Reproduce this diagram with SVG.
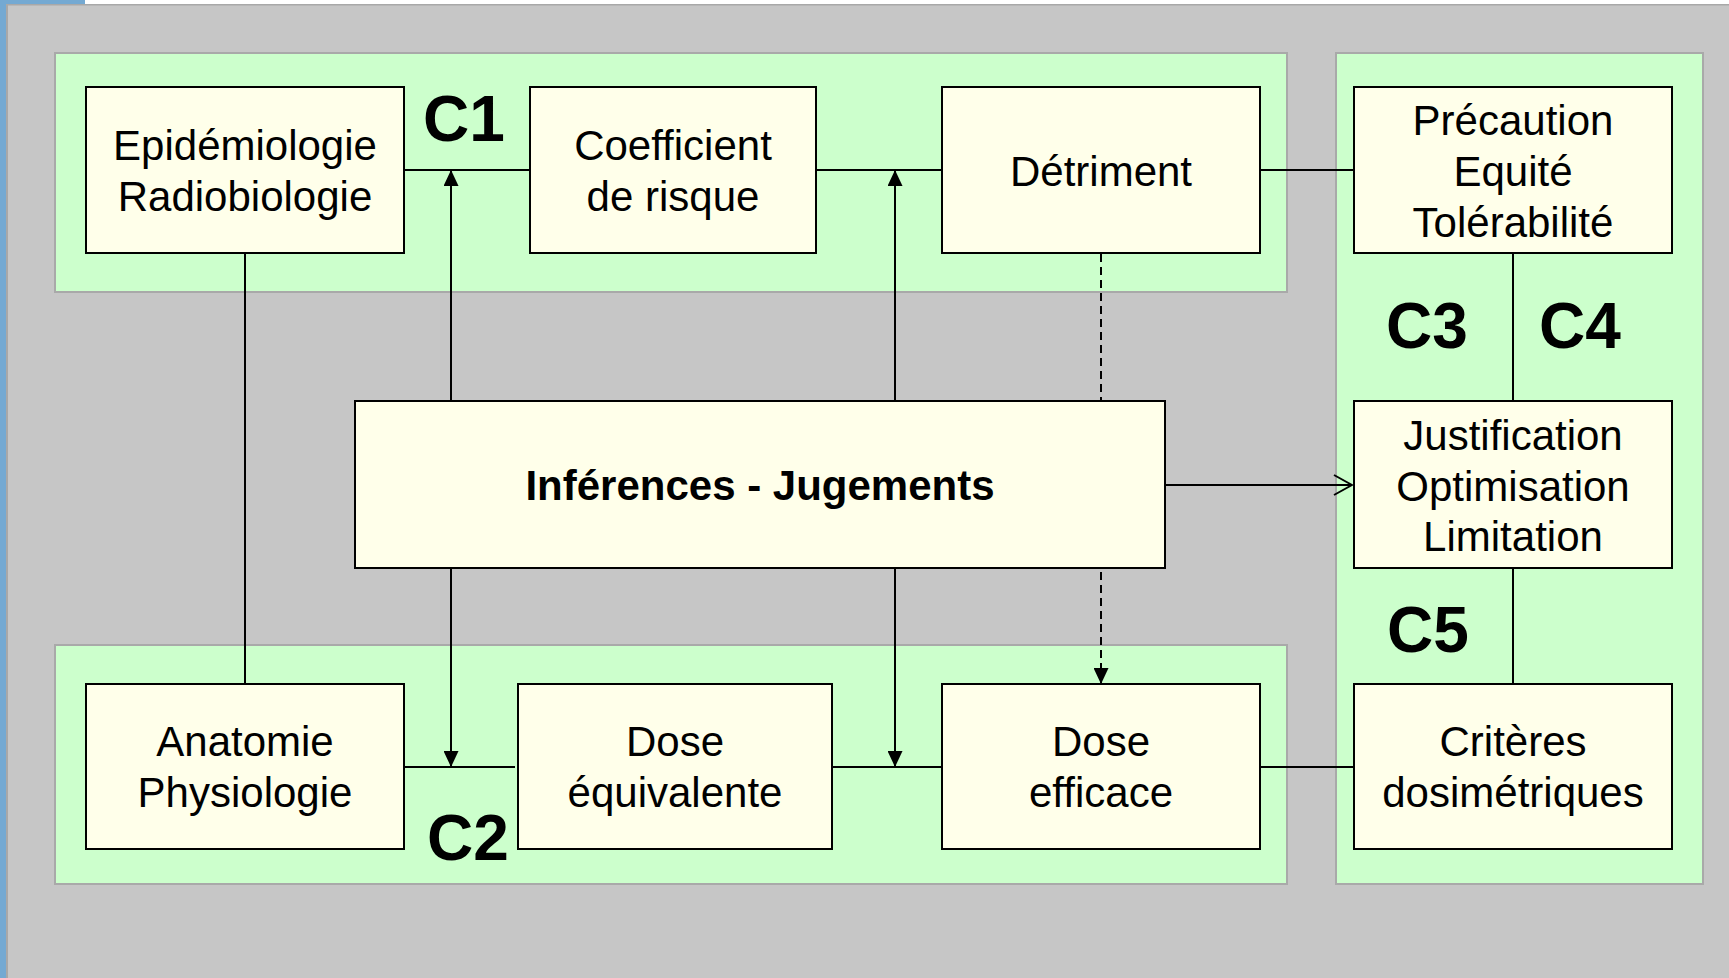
<svg xmlns="http://www.w3.org/2000/svg" width="1729" height="978" viewBox="0 0 1729 978">
<style>
.panel{fill:#ccffcc;stroke:#a9a9a9;stroke-width:2}
.box{fill:#ffffea;stroke:#000;stroke-width:2}
.t{font-family:"Liberation Sans",Arial,sans-serif;font-size:42px;fill:#000;text-anchor:middle}
.b{font-weight:bold}
.c{font-family:"Liberation Sans",Arial,sans-serif;font-size:64px;font-weight:bold;fill:#000;text-anchor:middle}
.ln{stroke:#000;stroke-width:2;fill:none}
.dash{stroke-dasharray:8 5}
</style>
<defs>
<marker id="tri" viewBox="0 0 16 15" refX="16" refY="7.5" markerWidth="16" markerHeight="15" markerUnits="userSpaceOnUse" orient="auto">
<path d="M0,0 L16,7.5 L0,15 z" fill="#000"/>
</marker>
<marker id="open" viewBox="0 0 20 22" refX="19" refY="11" markerWidth="20" markerHeight="22" markerUnits="userSpaceOnUse" orient="auto">
<path d="M1,1 L19,11 L1,21" fill="none" stroke="#000" stroke-width="2"/>
</marker>
</defs>
<rect x="0" y="0" width="1729" height="978" fill="#c6c6c6"/>
<rect x="0" y="0" width="6" height="978" fill="#74a9d2"/>
<rect x="0" y="0" width="85" height="4" fill="#74a9d2"/>
<rect x="85" y="0" width="1644" height="4" fill="#ffffff"/>
<line x1="6" y1="4.75" x2="1729" y2="4.75" stroke="#a8a8a8" stroke-width="1.5"/>
<line x1="7" y1="4" x2="7" y2="978" stroke="#a8a8a8" stroke-width="2"/>
<g id="panels">
<rect class="panel" x="55" y="53" width="1232" height="239"/>
<rect class="panel" x="55" y="645" width="1232" height="239"/>
<rect class="panel" x="1336" y="53" width="367" height="831"/>
</g>
<g id="connectors">
<line class="ln" x1="404" y1="170" x2="530" y2="170"/>
<line class="ln" x1="816" y1="170" x2="942" y2="170"/>
<line class="ln" x1="1260" y1="170" x2="1354" y2="170"/>
<line class="ln" x1="245" y1="253" x2="245" y2="684"/>
<line class="ln" x1="451" y1="401" x2="451" y2="170" marker-end="url(#tri)"/>
<line class="ln" x1="895" y1="401" x2="895" y2="170" marker-end="url(#tri)"/>
<line class="ln dash" x1="1101" y1="254" x2="1101" y2="401"/>
<line class="ln dash" x1="1101" y1="572" x2="1101" y2="684" marker-end="url(#tri)"/>
<line class="ln" x1="451" y1="568" x2="451" y2="767" marker-end="url(#tri)"/>
<line class="ln" x1="895" y1="568" x2="895" y2="767" marker-end="url(#tri)"/>
<line class="ln" x1="404" y1="767" x2="515" y2="767"/>
<line class="ln" x1="832" y1="767" x2="942" y2="767"/>
<line class="ln" x1="1260" y1="767" x2="1354" y2="767"/>
<line class="ln" x1="1513" y1="253" x2="1513" y2="401"/>
<line class="ln" x1="1513" y1="568" x2="1513" y2="684"/>
<line class="ln" x1="1165" y1="485" x2="1352" y2="485" marker-end="url(#open)"/>
</g>
<g id="epid">
<rect class="box" x="86" y="87" width="318" height="166"/>
<text class="t" x="245" y="159.5">Epidémiologie</text>
<text class="t" x="245" y="210.5">Radiobiologie</text>
</g>
<g id="coef">
<rect class="box" x="530" y="87" width="286" height="166"/>
<text class="t" x="673" y="159.5">Coefficient</text>
<text class="t" x="673" y="210.5">de risque</text>
</g>
<g id="detriment">
<rect class="box" x="942" y="87" width="318" height="166"/>
<text class="t" x="1101" y="186">Détriment</text>
</g>
<g id="precaution">
<rect class="box" x="1354" y="87" width="318" height="166"/>
<text class="t" x="1513" y="135">Précaution</text>
<text class="t" x="1513" y="185.5">Equité</text>
<text class="t" x="1513" y="236.5">Tolérabilité</text>
</g>
<g id="inferences">
<rect class="box" x="355" y="401" width="810" height="167"/>
<text class="t b" x="760" y="500">Inférences - Jugements</text>
</g>
<g id="justification">
<rect class="box" x="1354" y="401" width="318" height="167"/>
<text class="t" x="1513" y="450">Justification</text>
<text class="t" x="1513" y="500.5">Optimisation</text>
<text class="t" x="1513" y="551">Limitation</text>
</g>
<g id="anatomie">
<rect class="box" x="86" y="684" width="318" height="165"/>
<text class="t" x="245" y="756">Anatomie</text>
<text class="t" x="245" y="807">Physiologie</text>
</g>
<g id="doseeq">
<rect class="box" x="518" y="684" width="314" height="165"/>
<text class="t" x="675" y="756">Dose</text>
<text class="t" x="675" y="807">équivalente</text>
</g>
<g id="doseeff">
<rect class="box" x="942" y="684" width="318" height="165"/>
<text class="t" x="1101" y="756">Dose</text>
<text class="t" x="1101" y="807">efficace</text>
</g>
<g id="criteres">
<rect class="box" x="1354" y="684" width="318" height="165"/>
<text class="t" x="1513" y="756">Critères</text>
<text class="t" x="1513" y="807">dosimétriques</text>
</g>
<g id="labels">
<text class="c" x="464" y="141">C1</text>
<text class="c" x="468" y="860">C2</text>
<text class="c" x="1427" y="348">C3</text>
<text class="c" x="1580" y="348">C4</text>
<text class="c" x="1428" y="652">C5</text>
</g>
</svg>
